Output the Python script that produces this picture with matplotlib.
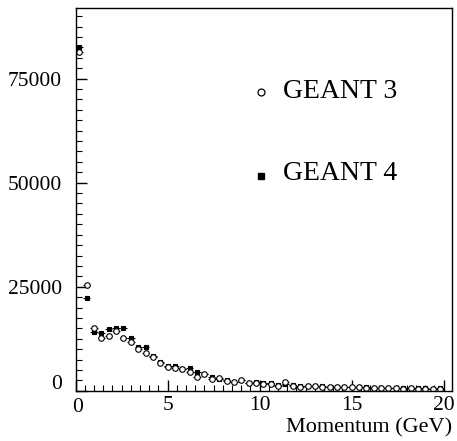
import numpy as np
import matplotlib.pyplot as plt
import matplotlib.transforms as mtransforms
from matplotlib.ticker import MultipleLocator

# bin centres (GeV), bin width 0.4
momentum = np.arange(50) * 0.4 + 0.2

geant4 = [82500, 22400, 14000, 13900, 14800, 15000, 15100, 12600, 10600, 10600,
          8250, 6900, 5900, 6000, 5300, 5400, 4400, 4000, 3400, 2850,
          2600, 2200, 2650, 1950, 2000, 1950, 1800, 1300, 1700, 1350,
          1100, 1100, 1150, 1050, 950, 1000, 950, 900, 950, 850,
          700, 750, 700, 700, 650, 600, 600, 550, 500, 600]

geant3 = [81500, 25300, 15100, 12600, 13100, 14300, 12600, 11800, 10100, 9150,
          8100, 6750, 5600, 5450, 5250, 4500, 3400, 3900, 2900, 2950,
          2400, 2100, 2500, 1850, 1950, 1700, 1700, 1250, 2000, 1150,
          1000, 1050, 1100, 950, 1000, 900, 900, 850, 800, 700,
          650, 700, 600, 600, 500, 550, 450, 500, 400, 450]

plt.rcParams['font.family'] = ['Liberation Serif', 'DejaVu Serif']

fig = plt.figure(figsize=(4.57, 4.41), dpi=100)
ax = fig.add_axes([0.1655, 0.114, 0.8235, 0.868])

g3 = np.array(geant3)
g4 = np.array(geant4)
ax.errorbar(momentum, g4, xerr=0.2, yerr=np.sqrt(g4) * 2, fmt='s', color='black',
            ms=3.5, mew=0.8, elinewidth=0.8, capsize=0)
ax.errorbar(momentum, g3, xerr=0.2, yerr=np.sqrt(g3) * 2, fmt='o', color='black',
            mfc='white', ms=4, mew=0.8, elinewidth=0.8, capsize=0)

ax.set_xlim(0, 20.45)
ax.set_ylim(0, 92000)
ax.set_xticks([0, 5, 10, 15, 20])
ax.set_yticks([0, 25000, 50000, 75000])
ax.xaxis.set_minor_locator(MultipleLocator(0.5))
ax.yaxis.set_minor_locator(MultipleLocator(2500))
ax.tick_params(which='both', direction='in', top=False, right=False, labelsize=15.5)
ax.tick_params(which='major', length=8, width=1)
ax.tick_params(which='minor', length=4, width=0.8)
ax.tick_params(axis='y', pad=10)
ax.tick_params(axis='x', pad=4)
for s in ax.spines.values():
    s.set_linewidth(1)

# y "0" label sits a little above the axis, x "0" a little to the right
lab = ax.get_yticklabels()[0]
lab.set_transform(lab.get_transform() + mtransforms.ScaledTranslation(0, 9 / 100, fig.dpi_scale_trans))
lab = ax.get_xticklabels()[0]
lab.set_transform(lab.get_transform() + mtransforms.ScaledTranslation(2 / 100, -2 / 100, fig.dpi_scale_trans))

ax.set_xlabel('Momentum (GeV)', fontsize=16, loc='right', labelpad=1)

# legend drawn as text entries
ax.plot([10.07], [71700], 'o', color='black', mfc='white', ms=5, mew=0.9)
ax.text(11.27, 71900, 'GEANT 3', fontsize=20, va='center', ha='left')
ax.plot([10.07], [51500], 's', color='black', ms=5)
ax.text(11.27, 52100, 'GEANT 4', fontsize=20, va='center', ha='left')

fig.savefig('out.png', dpi=100)
